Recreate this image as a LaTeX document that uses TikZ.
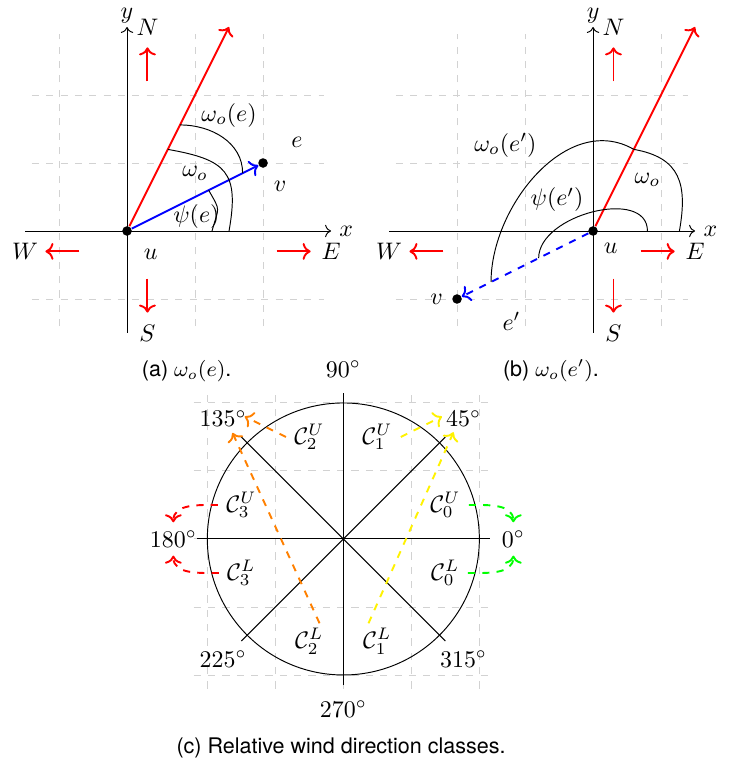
\documentclass[tikz,border=0pt]{standalone}
\usepackage{amsmath,amssymb}
\usepackage{fontspec}
\newfontfamily\capfont{TeX Gyre Heros}
\usepackage{xcolor}
\usepackage{tikz}
\usetikzlibrary{arrows.meta, calc}

\begin{document}
\begin{tikzpicture}[
    gridline/.style={gray!35, dashed},
    wind/.style={red, thick, ->},
    dot/.style={circle, fill=black, inner sep=0pt, minimum size=4pt},
    classarrow/.style={thick, dashed, ->},
    caption/.style={font=\capfont\small, anchor=base}
]
\useasboundingbox (0,0) rectangle (10.926,11.235);

% (a) wind angle of edge e
\begin{scope}[shift={(1.868,7.838)}]
    % Grid
    \draw[gridline] (-1.4,-1.4) grid (2.9,2.9);
    \draw[->] (-1.5,0) -- (3,0) node[right] {$x$};
    \draw[->] (0,-1.5) -- (0,3) node[above, inner sep=1.5pt] {$y$};

    % Compass
    \foreach \lbl/\px/\py/\dx/\dy in {N/0.3/3/0/-1, S/0.3/-1.5/0/1, E/3/-0.3/-1/0, W/-1.5/-0.3/1/0} {
        \node (a\lbl) at (\px,\py) {$\lbl$};
        \draw[wind] ($(a\lbl)+0.8*(\dx,\dy)$) -- ($(a\lbl)+0.3*(\dx,\dy)$);
    }

    % Edge and wind
    \node[dot] (ua) at (0,0) {};
    \node[dot] (va) at (2,1) {};
    \coordinate (wa) at (1.5,3);
    \draw[red, thick, ->] (ua) -- (wa);
    \draw[blue, thick, ->] (ua) -- (va);

    % Angles
    \draw (1.25,0) to[out=75, in=-60, looseness=1.6] (1.2,0.6);
    \draw (1.5,0) to[out=80, in=-10, looseness=1.5] (0.6,1.2);
    \draw (0.78,1.56) to[out=0, in=90] (1.7,0.85);

    % Labels
    \node (lwe) at (1.5,1.7) {$\omega_o(e)$};
    \node (lwa) at (1.0,0.85) {$\omega_o$};
    \node (lpsi) at (1.02,0.22) {$\psi(e)$};
    \node (le) at (2.5,1.3) {$e$};
    \node (lv) at (2.25,0.65) {$v$};
    \node (lu) at (0.35,-0.35) {$u$};
\end{scope}

% (b) wind angle of edge e'
\begin{scope}[shift={(8.721,7.838)}]
    % Grid
    \draw[gridline] (-2.9,-1.4) grid (1.4,2.9);
    \draw[->] (-3,0) -- (1.5,0) node[right] {$x$};
    \draw[->] (0,-1.5) -- (0,3) node[above, inner sep=1.5pt] {$y$};

    % Compass
    \foreach \lbl/\px/\py/\dx/\dy in {N/0.3/3/0/-1, S/0.3/-1.5/0/1, E/1.5/-0.3/-1/0, W/-3/-0.3/1/0} {
        \node (b\lbl) at (\px,\py) {$\lbl$};
        \draw[wind] ($(b\lbl)+0.8*(\dx,\dy)$) -- ($(b\lbl)+0.3*(\dx,\dy)$);
    }

    % Edge and wind
    \node[dot] (ub) at (0,0) {};
    \node[dot] (vb) at (-2,-1) {};
    \coordinate (wb) at (1.5,3);
    \draw[red, thick, ->] (ub) -- (wb);
    \draw[blue, thick, dashed, ->] (ub) -- (vb);

    % Angles
    \draw (0.8,0) to[out=90, in=90] (-0.8,-0.4);
    \draw (-1.5,-0.75) to[out=90, in=150] (0.6,1.2);
    \draw (0.6,1.2) to[out=-10, in=80, looseness=1.3] (1.27,0);

    % Labels
    \node (lwe2) at (-1.29,1.26) {$\omega_o(e')$};
    \node (lpsi2) at (-0.53,0.46) {$\psi(e')$};
    \node (lwb) at (0.8,0.75) {$\omega_o$};
    \node (lu2) at (0.26,-0.25) {$u$};
    \node (lv2) at (-2.3,-1.0) {$v$};
    \node (le2) at (-1.2,-1.33) {$e'$};
\end{scope}

% (c) relative wind direction classes
\begin{scope}[shift={(5.049,3.309)}]
    % Grid
    \draw[gridline] (-2.2,-2.2) grid (2.2,2.2);
    \draw (0,0) circle (2);
    \draw (-2.15,0) -- (2.15,0);
    \draw (0,-2.15) -- (0,2.15);
    \draw (-1.5,-1.5) -- (1.5,1.5);
    \draw (-1.5,1.5) -- (1.5,-1.5);

    % Degrees
    \foreach \a in {0,45,...,315}
        \node (d\a) at (\a:2.5) {$\a^\circ$};

    % Classes
    \node (c0u) at (1.5,0.5) {$\mathcal{C}_0^U$};
    \node (c0l) at (1.5,-0.5) {$\mathcal{C}_0^L$};
    \node (c1u) at (0.5,1.5) {$\mathcal{C}_1^U$};
    \node (c1l) at (0.5,-1.5) {$\mathcal{C}_1^L$};
    \node (c2u) at (-0.5,1.5) {$\mathcal{C}_2^U$};
    \node (c2l) at (-0.5,-1.5) {$\mathcal{C}_2^L$};
    \node (c3u) at (-1.5,0.5) {$\mathcal{C}_3^U$};
    \node (c3l) at (-1.5,-0.5) {$\mathcal{C}_3^L$};

    \coordinate (s1l) at (0.37,-1.24);
    \coordinate (s2l) at (-0.35,-1.24);
    \coordinate (t45) at (1.45,1.8);
    \coordinate (b45) at (1.62,1.57);
    \coordinate (t135) at (-1.45,1.8);
    \coordinate (b135) at (-1.63,1.56);

    \draw[classarrow, green] (c0u.east) to[out=0, in=90] (d0.north);
    \draw[classarrow, green] (c0l.east) to[out=0, in=-90] (d0.south);
    \draw[classarrow, yellow] (c1u.east) -- (t45);
    \draw[classarrow, yellow] (s1l) -- (b45);
    \draw[classarrow, orange] (c2u.west) -- (t135);
    \draw[classarrow, orange] (s2l) -- (b135);
    \draw[classarrow, red] (c3u.west) to[out=180, in=90] (d180.north);
    \draw[classarrow, red] (c3l.west) to[out=180, in=-90] (d180.south);
\end{scope}

% Captions
\node[caption] (capa) at (2.745,5.696) {(a) $\omega_o(e)$.};
\node[caption] (capb) at (8.103,5.696) {(b) $\omega_o(e')$.};
\node[caption] (capc) at (5.015,0.16) {(c) Relative wind direction classes.};
\end{tikzpicture}
\end{document}
